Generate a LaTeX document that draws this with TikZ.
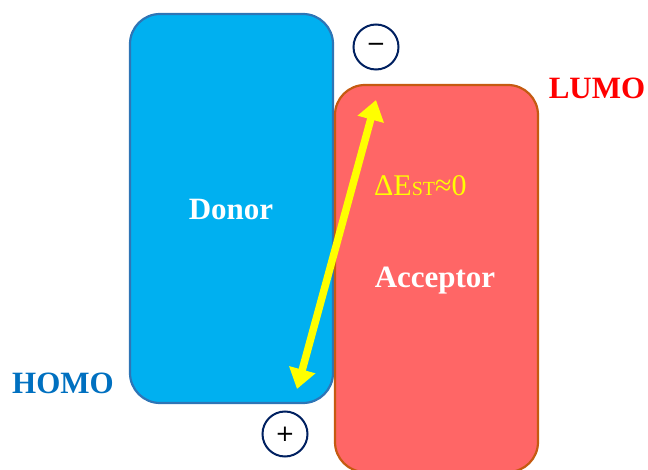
\documentclass[tikz,border=0pt]{standalone}
\usepackage{fontspec}
\setmainfont{Liberation Serif}
\newfontfamily\symfont{DejaVu Sans}
\usetikzlibrary{arrows.meta}
\definecolor{donorfill}{HTML}{00B0F0}
\definecolor{donorline}{HTML}{2E75B6}
\definecolor{accfill}{HTML}{FF6666}
\definecolor{accline}{HTML}{C55A11}
\definecolor{homoblue}{HTML}{0070C0}
\definecolor{chargering}{HTML}{002060}
\definecolor{gapyellow}{HTML}{FFFF00}
\tikzset{
  orbital/.style={rounded corners=30pt, line width=2.2pt},
  boxlabel/.style={font=\fontsize{31}{31}\selectfont\bfseries, text=white},
  levellabel/.style={font=\fontsize{31}{31}\selectfont\bfseries},
  charge/.style={circle, draw=chargering, line width=2pt, minimum size=45pt, inner sep=0pt, font=\symfont\fontsize{23}{23}\selectfont},
  gaparrow/.style={line width=7.5pt, draw=gapyellow, {Triangle[length=20pt,width=26pt]}-{Triangle[length=20pt,width=26pt]}}
}
\begin{document}
\begin{tikzpicture}[x=1pt, y=-1pt]
  \useasboundingbox (0,0) rectangle (648,470);
  % donor and acceptor blocks
  \draw[orbital, fill=donorfill, draw=donorline] (130,14) rectangle (333,403);
  \draw[orbital, fill=accfill, draw=accline] (335,85) rectangle (538,472);
  \node[boxlabel] (donor) at (231,210) {Donor};
  \node[boxlabel] (acceptor) at (435,281) {Acceptor};
  % frontier orbital labels
  \node[levellabel, text=homoblue] (homo) at (63,383) {HOMO};
  \node[levellabel, text=red] (lumo) at (597,88) {LUMO};
  % electron and hole
  \node[charge] (minus) at (376,47) {−};
  \node[charge] (plus) at (285,434) {+};
  % singlet-triplet gap
  \coordinate (top) at (376,100);
  \coordinate (bottom) at (297,389);
  \draw[gaparrow] (bottom) -- (top);
  \node[anchor=west, text=gapyellow, font=\fontsize{30}{30}\selectfont, inner sep=0pt] (gap) at (374,186) {ΔE{\fontsize{20}{20}\selectfont ST}≈0};
\end{tikzpicture}
\end{document}
